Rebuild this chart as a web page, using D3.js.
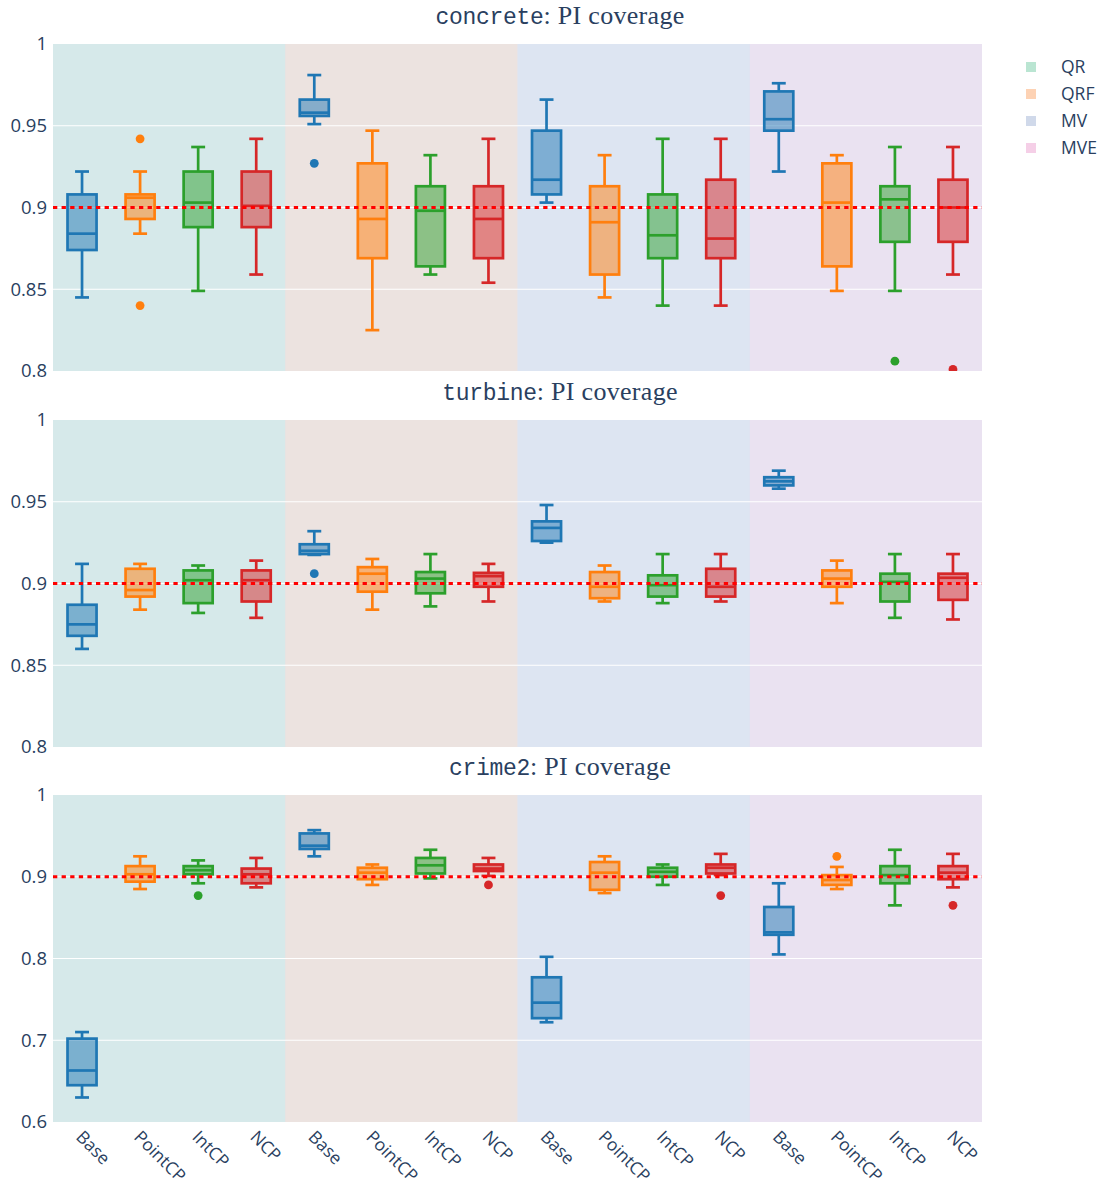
<!DOCTYPE html>
<html>
<head>
<meta charset="utf-8">
<script src="https://cdn.jsdelivr.net/npm/d3@7/dist/d3.min.js"></script>
<style>
  html, body { margin: 0; padding: 0; background: #fff; }
  svg { display: block; }
</style>
</head>
<body>
<svg id="chart" width="1108" height="1189"></svg>
<script>
// ---- data -----------------------------------------------------------
const methods = ["QR", "QRF", "MV", "MVE"];
const variants = ["Base", "PointCP", "IntCP", "NCP"];
const datasets = ["concrete", "turbine", "crime2"];
const yDomains = [[0.8, 1], [0.8, 1], [0.6, 1]];
const yTicks = [
  [0.8, 0.85, 0.9, 0.95, 1],
  [0.8, 0.85, 0.9, 0.95, 1],
  [0.6, 0.7, 0.8, 0.9, 1]
];
const target = 0.9;

// box statistics per method/variant: [lower fence, q1, median, q3, upper fence]
const concreteStats = [
  [0.845, 0.874, 0.884, 0.908, 0.922],
  [0.884, 0.893, 0.906, 0.908, 0.922],
  [0.849, 0.888, 0.903, 0.922, 0.937],
  [0.859, 0.888, 0.901, 0.922, 0.942],
  [0.951, 0.956, 0.958, 0.966, 0.981],
  [0.825, 0.869, 0.893, 0.927, 0.947],
  [0.859, 0.864, 0.898, 0.913, 0.932],
  [0.854, 0.869, 0.893, 0.913, 0.942],
  [0.903, 0.908, 0.917, 0.947, 0.966],
  [0.845, 0.859, 0.891, 0.913, 0.932],
  [0.840, 0.869, 0.883, 0.908, 0.942],
  [0.840, 0.869, 0.881, 0.917, 0.942],
  [0.922, 0.947, 0.954, 0.971, 0.976],
  [0.849, 0.864, 0.903, 0.927, 0.932],
  [0.849, 0.879, 0.905, 0.913, 0.937],
  [0.859, 0.879, 0.900, 0.917, 0.937]
];
const concreteOutliers = [[1, 0.942], [1, 0.840], [4, 0.927], [14, 0.806], [15, 0.801]];

const turbineStats = [
  [0.860, 0.868, 0.875, 0.887, 0.912],
  [0.884, 0.892, 0.896, 0.909, 0.912],
  [0.882, 0.888, 0.902, 0.908, 0.911],
  [0.879, 0.889, 0.902, 0.908, 0.914],
  [0.9175, 0.918, 0.920, 0.924, 0.932],
  [0.884, 0.895, 0.906, 0.910, 0.915],
  [0.886, 0.894, 0.903, 0.907, 0.918],
  [0.889, 0.898, 0.9045, 0.9065, 0.912],
  [0.925, 0.926, 0.934, 0.938, 0.948],
  [0.889, 0.891, 0.898, 0.907, 0.911],
  [0.888, 0.892, 0.899, 0.905, 0.918],
  [0.889, 0.892, 0.898, 0.909, 0.918],
  [0.958, 0.960, 0.9625, 0.965, 0.969],
  [0.888, 0.898, 0.903, 0.908, 0.914],
  [0.879, 0.889, 0.901, 0.906, 0.918],
  [0.878, 0.890, 0.9035, 0.906, 0.918]
];
const turbineOutliers = [[4, 0.906]];

const crime2Stats = [
  [0.630, 0.645, 0.663, 0.702, 0.710],
  [0.885, 0.894, 0.903, 0.913, 0.925],
  [0.892, 0.903, 0.908, 0.913, 0.920],
  [0.887, 0.892, 0.903, 0.910, 0.923],
  [0.925, 0.934, 0.938, 0.953, 0.957],
  [0.890, 0.897, 0.905, 0.911, 0.915],
  [0.898, 0.904, 0.914, 0.923, 0.933],
  [0.901, 0.907, 0.910, 0.915, 0.923],
  [0.722, 0.727, 0.746, 0.777, 0.802],
  [0.880, 0.884, 0.905, 0.918, 0.925],
  [0.890, 0.900, 0.906, 0.911, 0.915],
  [0.902, 0.904, 0.911, 0.915, 0.928],
  [0.805, 0.829, 0.832, 0.863, 0.892],
  [0.885, 0.890, 0.896, 0.902, 0.912],
  [0.865, 0.892, 0.902, 0.913, 0.933],
  [0.887, 0.897, 0.905, 0.913, 0.928]
];
const crime2Outliers = [[2, 0.877], [7, 0.890], [11, 0.877], [13, 0.925], [15, 0.865]];

const allStats = [concreteStats, turbineStats, crime2Stats];
const allOutliers = [concreteOutliers, turbineOutliers, crime2Outliers];

// ---- styling --------------------------------------------------------
const variantColors = ["#1f77b4", "#ff7f0e", "#2ca02c", "#d62728"];
const methodColors = ["#b3e2cd", "#fdcdac", "#cbd5e8", "#f4cae4"];
const textColor = "#2a3f5f";
const plotBg = "#E5ECF6";

const svg = d3.select("#chart");
const left = 53, right = 982;
const panelTops = [44, 420, 795];
const panelH = 327;

const keys = [];
methods.forEach(m => variants.forEach(v => keys.push(m + "|" + v)));
const x = d3.scaleBand().domain(keys).range([left, right]).padding(0);
const bw = x.bandwidth();
const boxW = bw * 0.5;
const capW = boxW * 0.48;

datasets.forEach((name, p) => {
  const top = panelTops[p];
  const y = d3.scaleLinear().domain(yDomains[p]).range([top + panelH, top]);
  const g = svg.append("g");
  const clipId = "clip" + p;
  svg.append("clipPath").attr("id", clipId)
    .append("rect").attr("x", left).attr("y", top).attr("width", right - left).attr("height", panelH);

  // plot background and method shading
  g.append("rect").attr("x", left).attr("y", top).attr("width", right - left).attr("height", panelH).attr("fill", plotBg);
  methods.forEach((m, i) => {
    const x0 = x(m + "|" + variants[0]);
    const x1 = x(m + "|" + variants[3]) + bw;
    g.append("rect").attr("x", x0).attr("y", top).attr("width", x1 - x0).attr("height", panelH)
      .attr("fill", methodColors[i]).attr("opacity", 0.3);
  });

  // grid
  g.selectAll(".grid").data(yTicks[p].filter(t => t > yDomains[p][0] && t < yDomains[p][1]))
    .enter().append("line")
    .attr("x1", left).attr("x2", right)
    .attr("y1", d => y(d)).attr("y2", d => y(d))
    .attr("stroke", "#fff").attr("stroke-width", 1.2);

  // y axis
  const yAxis = d3.axisLeft(y).tickValues(yTicks[p]).tickSize(0).tickPadding(6)
    .tickFormat(d => String(+d.toFixed(2)));
  const ya = g.append("g").attr("transform", `translate(${left},0)`).call(yAxis);
  ya.select(".domain").remove();
  ya.selectAll("text").attr("fill", textColor).style("font-family", "'Open Sans', sans-serif").style("font-size", "18.5px");

  // boxes
  const boxes = g.append("g").attr("clip-path", `url(#${clipId})`);
  allStats[p].forEach((s, i) => {
    const [lf, q1, med, q3, uf] = s;
    const col = variantColors[i % 4];
    const cx = x(keys[i]) + bw / 2;
    const bg = boxes.append("g").attr("stroke", col).attr("stroke-width", 2.7).attr("fill", "none");
    // whiskers
    bg.append("line").attr("x1", cx).attr("x2", cx).attr("y1", y(q3)).attr("y2", y(uf));
    bg.append("line").attr("x1", cx).attr("x2", cx).attr("y1", y(q1)).attr("y2", y(lf));
    bg.append("line").attr("x1", cx - capW / 2).attr("x2", cx + capW / 2).attr("y1", y(uf)).attr("y2", y(uf));
    bg.append("line").attr("x1", cx - capW / 2).attr("x2", cx + capW / 2).attr("y1", y(lf)).attr("y2", y(lf));
    // box body
    bg.append("rect").attr("x", cx - boxW / 2).attr("y", y(q3)).attr("width", boxW)
      .attr("height", Math.max(0, y(q1) - y(q3)))
      .attr("fill", col).attr("fill-opacity", 0.5);
    // median
    bg.append("line").attr("x1", cx - boxW / 2).attr("x2", cx + boxW / 2).attr("y1", y(med)).attr("y2", y(med));
  });
  boxes.selectAll(".out").data(allOutliers[p]).enter().append("circle")
    .attr("cx", d => x(keys[d[0]]) + bw / 2)
    .attr("cy", d => y(d[1]))
    .attr("r", 4.4)
    .attr("fill", d => variantColors[d[0] % 4]);

  // target coverage line
  g.append("line").attr("x1", left).attr("x2", right).attr("y1", y(target)).attr("y2", y(target))
    .attr("stroke", "red").attr("stroke-width", 3.2).attr("stroke-dasharray", "4.3,4.3");

  // title
  const t = svg.append("text").attr("x", 560).attr("y", top - 20).attr("text-anchor", "middle")
    .attr("fill", textColor);
  t.append("tspan").text(name).style("font-family", "'Liberation Mono', monospace").style("font-size", "23px")
    .style("letter-spacing", "-0.3px");
  t.append("tspan").text(": PI coverage").style("font-family", "'Liberation Serif', serif").style("font-size", "26px")
    .style("letter-spacing", "0.3px");

  // x axis labels on the bottom panel
  if (p === datasets.length - 1) {
    const xa = svg.append("g").attr("transform", `translate(0,${top + panelH})`)
      .call(d3.axisBottom(x).tickSize(0).tickFormat(k => k.split("|")[1]));
    xa.select(".domain").remove();
    xa.selectAll("text")
      .attr("fill", textColor)
      .style("font-family", "'Open Sans', sans-serif").style("font-size", "17.5px")
      .attr("text-anchor", "start")
      .attr("dy", null).attr("y", null)
      .attr("transform", "translate(-7,16) rotate(45)");
  }
});

// legend
const legend = svg.append("g");
methods.forEach((m, i) => {
  const ly = 67 + i * 27;
  legend.append("rect").attr("x", 1026).attr("y", ly - 5).attr("width", 10).attr("height", 10)
    .attr("fill", methodColors[i]).attr("opacity", 0.9);
  legend.append("text").attr("x", 1061).attr("y", ly).attr("dy", "0.36em")
    .attr("fill", textColor).style("font-family", "'Open Sans', sans-serif").style("font-size", "17.5px")
    .text(m);
});
</script>
</body>
</html>
